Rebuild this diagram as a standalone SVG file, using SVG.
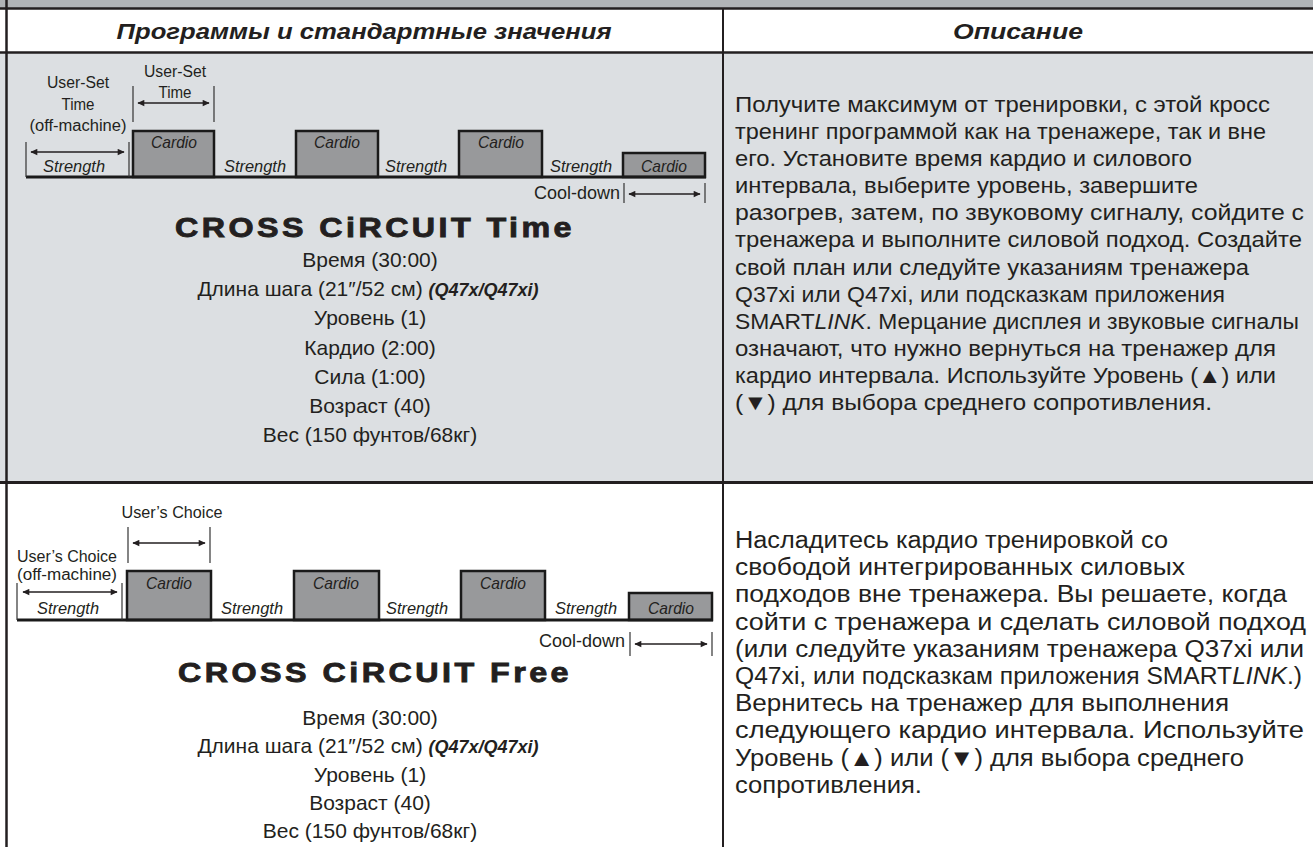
<svg xmlns="http://www.w3.org/2000/svg" width="1313" height="847" viewBox="0 0 1313 847">
<style>
text{font-family:"Liberation Sans",Arial,sans-serif;fill:#231f20}
.hd{font-size:22px;font-weight:bold;font-style:italic;text-anchor:middle}
.ttl{font-size:28px;font-weight:bold;letter-spacing:3px;text-anchor:middle;stroke:#231f20;stroke-width:0.9px}
.par{font-size:21px;text-anchor:middle}
.cn{font-family:"Liberation Sans Narrow","Liberation Sans",Arial,sans-serif}
.bi{font-weight:bold;font-style:italic;font-size:18px}
.desc{font-size:22px}
.desc2{font-size:23.5px}
.lbl{font-size:16px;text-anchor:middle}
.it{font-size:17px;font-style:italic;text-anchor:middle}
.cd{font-size:18px;text-anchor:end}
.grid{stroke:#231f20;fill:none}
.box{fill:#98999b;stroke:#1a1a1a;stroke-width:2.5}
.floor{stroke:#1a1a1a;stroke-width:3;fill:none}
.tick{stroke:#333;stroke-width:1.2}
.arr{stroke:#231f20;stroke-width:1.3;marker-start:url(#ah);marker-end:url(#ah)}
</style>
<defs>
<marker id="ah" viewBox="0 0 10 10" refX="9" refY="5" markerWidth="8" markerHeight="7" markerUnits="userSpaceOnUse" orient="auto-start-reverse"><path d="M0,0.5 L10,5 L0,9.5 z" fill="#231f20"/></marker>
</defs>

<g id="table">
<rect x="0" y="0" width="1313" height="8" fill="#b1b4b7"/>
<rect x="0" y="9" width="1313" height="43" fill="#ffffff"/>
<rect x="0" y="53" width="1313" height="429" fill="#dcdfe2"/>
<rect x="0" y="484" width="1313" height="363" fill="#ffffff"/>
<line class="grid" x1="0" y1="8.5" x2="1313" y2="8.5" stroke-width="2.5"/>
<line class="grid" x1="0" y1="52.5" x2="1313" y2="52.5" stroke-width="2.5"/>
<line class="grid" x1="0" y1="482.5" x2="1313" y2="482.5" stroke-width="3"/>
<line class="grid" x1="6.5" y1="0" x2="6.5" y2="847" stroke-width="2.5"/>
<line class="grid" x1="723" y1="8" x2="723" y2="847" stroke-width="2"/>
</g>

<g id="header-programs"><text class="hd" x="364" y="39" textLength="495" lengthAdjust="spacingAndGlyphs">Программы и стандартные значения</text></g>
<g id="header-description"><text class="hd" x="1018" y="39" textLength="130" lengthAdjust="spacingAndGlyphs">Описание</text></g>

<g id="time-chart">
<rect class="box" x="133" y="131" width="81" height="46"/>
<rect class="box" x="296" y="131" width="82" height="46"/>
<rect class="box" x="459" y="131" width="83" height="46"/>
<rect class="box" x="623" y="153" width="82" height="24"/>
<line class="floor" x1="26" y1="177" x2="706" y2="177"/>
<text class="it" x="174" y="148" textLength="46" lengthAdjust="spacingAndGlyphs">Cardio</text>
<text class="it" x="337" y="148" textLength="46" lengthAdjust="spacingAndGlyphs">Cardio</text>
<text class="it" x="501" y="148" textLength="46" lengthAdjust="spacingAndGlyphs">Cardio</text>
<text class="it" x="664" y="172" textLength="46" lengthAdjust="spacingAndGlyphs">Cardio</text>
<text class="it" x="74" y="172" textLength="62" lengthAdjust="spacingAndGlyphs">Strength</text>
<text class="it" x="255" y="172" textLength="62" lengthAdjust="spacingAndGlyphs">Strength</text>
<text class="it" x="416" y="172" textLength="62" lengthAdjust="spacingAndGlyphs">Strength</text>
<text class="it" x="581" y="172" textLength="62" lengthAdjust="spacingAndGlyphs">Strength</text>
<text class="lbl" x="78" y="88" textLength="62" lengthAdjust="spacingAndGlyphs">User-Set</text>
<text class="lbl" x="78" y="110" textLength="33" lengthAdjust="spacingAndGlyphs">Time</text>
<text class="lbl" x="78" y="131" textLength="97" lengthAdjust="spacingAndGlyphs">(off-machine)</text>
<text class="lbl" x="175" y="77" textLength="62" lengthAdjust="spacingAndGlyphs">User-Set</text>
<text class="lbl" x="175" y="98" textLength="33" lengthAdjust="spacingAndGlyphs">Time</text>
<text class="cd" x="620" y="199">Cool-down</text>
</g>

<g id="time-markers">
<line class="tick" x1="26" y1="142" x2="26" y2="177"/>
<line class="tick" x1="129" y1="142" x2="129" y2="177"/>
<line class="arr" x1="31" y1="152" x2="124" y2="152"/>
<line class="tick" x1="133" y1="86" x2="133" y2="122"/>
<line class="tick" x1="214" y1="86" x2="214" y2="122"/>
<line class="arr" x1="138" y1="103" x2="209" y2="103"/>
<line class="tick" x1="624" y1="183" x2="624" y2="203"/>
<line class="tick" x1="705" y1="183" x2="705" y2="203"/>
<line class="arr" x1="629" y1="194" x2="700" y2="194"/>
</g>

<g id="time-program">
<text class="ttl" x="375" y="237" textLength="400" lengthAdjust="spacingAndGlyphs">CROSS CiRCUIT Time</text>
<text class="par" x="370" y="267">Время <tspan class="cn">(30:00)</tspan></text>
<text class="par" x="368" y="296">Длина шага <tspan class="cn">(21″/52</tspan> см<tspan class="cn">)</tspan> <tspan class="cn bi">(Q47x/Q47xi)</tspan></text>
<text class="par" x="370" y="325">Уровень <tspan class="cn">(1)</tspan></text>
<text class="par" x="370" y="355">Кардио <tspan class="cn">(2:00)</tspan></text>
<text class="par" x="370" y="384">Сила <tspan class="cn">(1:00)</tspan></text>
<text class="par" x="370" y="413">Возраст <tspan class="cn">(40)</tspan></text>
<text class="par" x="370" y="442">Вес <tspan class="cn">(150</tspan> фунтов<tspan class="cn">/68</tspan>кг<tspan class="cn">)</tspan></text>
</g>

<g id="time-description">
<text class="desc" x="735" y="112" textLength="535" lengthAdjust="spacingAndGlyphs">Получите максимум от тренировки, с этой кросс</text>
<text class="desc" x="735" y="139" textLength="531" lengthAdjust="spacingAndGlyphs">тренинг программой как на тренажере, так и вне</text>
<text class="desc" x="735" y="166" textLength="457" lengthAdjust="spacingAndGlyphs">его. Установите время кардио и силового</text>
<text class="desc" x="735" y="193" textLength="463" lengthAdjust="spacingAndGlyphs">интервала, выберите уровень, завершите</text>
<text class="desc" x="735" y="220" textLength="569" lengthAdjust="spacingAndGlyphs">разогрев, затем, по звуковому сигналу, сойдите с</text>
<text class="desc" x="735" y="247" textLength="567" lengthAdjust="spacingAndGlyphs">тренажера и выполните силовой подход. Создайте</text>
<text class="desc" x="735" y="275" textLength="514" lengthAdjust="spacingAndGlyphs">свой план или следуйте указаниям тренажера</text>
<text class="desc" x="735" y="302" textLength="490" lengthAdjust="spacingAndGlyphs"><tspan class="cn">Q37xi</tspan> или <tspan class="cn">Q47xi</tspan>, или подсказкам приложения</text>
<text class="desc" x="735" y="329" textLength="564" lengthAdjust="spacingAndGlyphs"><tspan class="cn">SMART</tspan><tspan class="cn" font-style="italic">LINK</tspan>. Мерцание дисплея и звуковые сигналы</text>
<text class="desc" x="735" y="356" textLength="541" lengthAdjust="spacingAndGlyphs">означают, что нужно вернуться на тренажер для</text>
<text class="desc" x="735" y="383" textLength="541" lengthAdjust="spacingAndGlyphs">кардио интервала. Используйте Уровень <tspan class="cn">(</tspan>▲<tspan class="cn">)</tspan> или</text>
<text class="desc" x="735" y="410" textLength="477" lengthAdjust="spacingAndGlyphs"><tspan class="cn">(</tspan>▼<tspan class="cn">)</tspan> для выбора среднего сопротивления.</text>
</g>

<g id="free-chart">
<rect class="box" x="127" y="571" width="84" height="49"/>
<rect class="box" x="294" y="571" width="85" height="49"/>
<rect class="box" x="461" y="571" width="84" height="49"/>
<rect class="box" x="629" y="593" width="83" height="27"/>
<line class="floor" x1="17" y1="620" x2="713" y2="620"/>
<text class="it" x="169" y="589" textLength="46" lengthAdjust="spacingAndGlyphs">Cardio</text>
<text class="it" x="336" y="589" textLength="46" lengthAdjust="spacingAndGlyphs">Cardio</text>
<text class="it" x="503" y="589" textLength="46" lengthAdjust="spacingAndGlyphs">Cardio</text>
<text class="it" x="671" y="614" textLength="46" lengthAdjust="spacingAndGlyphs">Cardio</text>
<text class="it" x="68" y="614" textLength="62" lengthAdjust="spacingAndGlyphs">Strength</text>
<text class="it" x="252" y="614" textLength="62" lengthAdjust="spacingAndGlyphs">Strength</text>
<text class="it" x="417" y="614" textLength="62" lengthAdjust="spacingAndGlyphs">Strength</text>
<text class="it" x="586" y="614" textLength="62" lengthAdjust="spacingAndGlyphs">Strength</text>
<text class="lbl" x="67" y="562" textLength="100" lengthAdjust="spacingAndGlyphs">User’s Choice</text>
<text class="lbl" x="67" y="580" textLength="100" lengthAdjust="spacingAndGlyphs">(off-machine)</text>
<text class="lbl" x="172" y="518" textLength="101" lengthAdjust="spacingAndGlyphs">User’s Choice</text>
<text class="cd" x="625" y="647">Cool-down</text>
</g>

<g id="free-markers">
<line class="tick" x1="17" y1="583" x2="17" y2="620"/>
<line class="tick" x1="122" y1="583" x2="122" y2="620"/>
<line class="arr" x1="23" y1="592" x2="117" y2="592"/>
<line class="tick" x1="128" y1="527" x2="128" y2="563"/>
<line class="tick" x1="210" y1="527" x2="210" y2="563"/>
<line class="arr" x1="133" y1="543" x2="205" y2="543"/>
<line class="tick" x1="630" y1="632" x2="630" y2="656"/>
<line class="tick" x1="712" y1="632" x2="712" y2="656"/>
<line class="arr" x1="635" y1="644" x2="707" y2="644"/>
</g>

<g id="free-program">
<text class="ttl" x="375" y="682" textLength="394" lengthAdjust="spacingAndGlyphs">CROSS CiRCUIT Free</text>
<text class="par" x="370" y="725">Время <tspan class="cn">(30:00)</tspan></text>
<text class="par" x="368" y="753">Длина шага <tspan class="cn">(21″/52</tspan> см<tspan class="cn">)</tspan> <tspan class="cn bi">(Q47x/Q47xi)</tspan></text>
<text class="par" x="370" y="782">Уровень <tspan class="cn">(1)</tspan></text>
<text class="par" x="370" y="810">Возраст <tspan class="cn">(40)</tspan></text>
<text class="par" x="370" y="838">Вес <tspan class="cn">(150</tspan> фунтов<tspan class="cn">/68</tspan>кг<tspan class="cn">)</tspan></text>
</g>

<g id="free-description">
<text class="desc2" x="735" y="548" textLength="433" lengthAdjust="spacingAndGlyphs">Насладитесь кардио тренировкой со</text>
<text class="desc2" x="735" y="575" textLength="450" lengthAdjust="spacingAndGlyphs">свободой интегрированных силовых</text>
<text class="desc2" x="735" y="602" textLength="552" lengthAdjust="spacingAndGlyphs">подходов вне тренажера. Вы решаете, когда</text>
<text class="desc2" x="735" y="630" textLength="571" lengthAdjust="spacingAndGlyphs">сойти с тренажера и сделать силовой подход</text>
<text class="desc2" x="735" y="657" textLength="569" lengthAdjust="spacingAndGlyphs">(или следуйте указаниям тренажера <tspan class="cn">Q37xi</tspan> или</text>
<text class="desc2" x="735" y="684" textLength="567" lengthAdjust="spacingAndGlyphs"><tspan class="cn">Q47xi</tspan>, или подсказкам приложения <tspan class="cn">SMART</tspan><tspan class="cn" font-style="italic">LINK</tspan><tspan class="cn">.)</tspan></text>
<text class="desc2" x="735" y="711" textLength="494" lengthAdjust="spacingAndGlyphs">Вернитесь на тренажер для выполнения</text>
<text class="desc2" x="735" y="738" textLength="569" lengthAdjust="spacingAndGlyphs">следующего кардио интервала. Используйте</text>
<text class="desc2" x="735" y="766" textLength="509" lengthAdjust="spacingAndGlyphs">Уровень <tspan class="cn">(</tspan>▲<tspan class="cn">)</tspan> или <tspan class="cn">(</tspan>▼<tspan class="cn">)</tspan> для выбора среднего</text>
<text class="desc2" x="735" y="793" textLength="187" lengthAdjust="spacingAndGlyphs">сопротивления.</text>
</g>
</svg>
